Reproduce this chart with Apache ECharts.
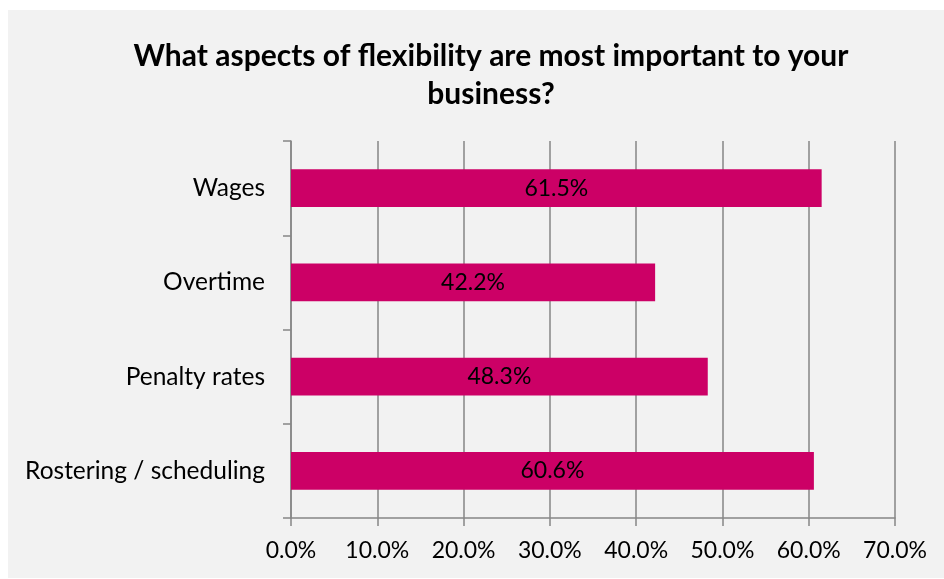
<!DOCTYPE html>
<html>
<head>
<meta charset="utf-8">
<script src="https://cdn.jsdelivr.net/npm/echarts@6/dist/echarts.min.js"></script>
<style>
html,body{margin:0;padding:0;background:#ffffff;width:944px;height:579px;overflow:hidden;}
#bg{position:absolute;left:8px;top:10px;width:936px;height:568px;background:#f2f2f2;}
#chart{width:936px;height:568px;}
</style>
</head>
<body>
<div id="bg"><div id="chart"></div></div>
<script>
const categories = ["Wages", "Overtime", "Penalty rates", "Rostering / scheduling"];
const values = [61.5, 42.2, 48.3, 60.6];
const titleText = "What aspects of flexibility are most important to your\nbusiness?";

const FONT = "Lato, 'Open Sans', sans-serif";
const chart = echarts.init(document.getElementById('chart'), null, {renderer: 'canvas'});
chart.setOption({
  backgroundColor: 'transparent',
  animation: false,
  title: {
    text: titleText,
    left: 478,
    top: 22,
    textAlign: 'center',
    textStyle: {fontFamily: FONT, fontWeight: 'bold', fontSize: 30, color: '#000', lineHeight: 38}
  },
  grid: {left: 283, right: 49, top: 131, bottom: 60, containLabel: false},
  xAxis: {
    type: 'value',
    min: 0, max: 70, interval: 10,
    axisLine: {show: true, lineStyle: {color: '#868686', width: 1.5}},
    axisTick: {show: true, length: 8, lineStyle: {color: '#868686', width: 1.5}},
    splitLine: {show: true, lineStyle: {color: '#868686', width: 1.5}},
    axisLabel: {formatter: v => v.toFixed(1) + '%', fontFamily: FONT, fontSize: 23, color: '#000', margin: 21}
  },
  yAxis: {
    type: 'category',
    data: categories,
    inverse: true,
    axisLine: {show: true, lineStyle: {color: '#868686', width: 1.5}},
    axisTick: {show: true, length: 8, lineStyle: {color: '#868686', width: 1.5}},
    axisLabel: {fontFamily: FONT, fontSize: 24.5, color: '#000', margin: 26}
  },
  series: [{
    type: 'bar',
    data: values,
    barCategoryGap: '60%',
    itemStyle: {color: '#cc0066'},
    label: {
      show: true, position: 'inside',
      formatter: p => p.value.toFixed(1) + '%',
      fontFamily: FONT, fontSize: 23, color: '#000'
    }
  }]
});
</script>
</body>
</html>
